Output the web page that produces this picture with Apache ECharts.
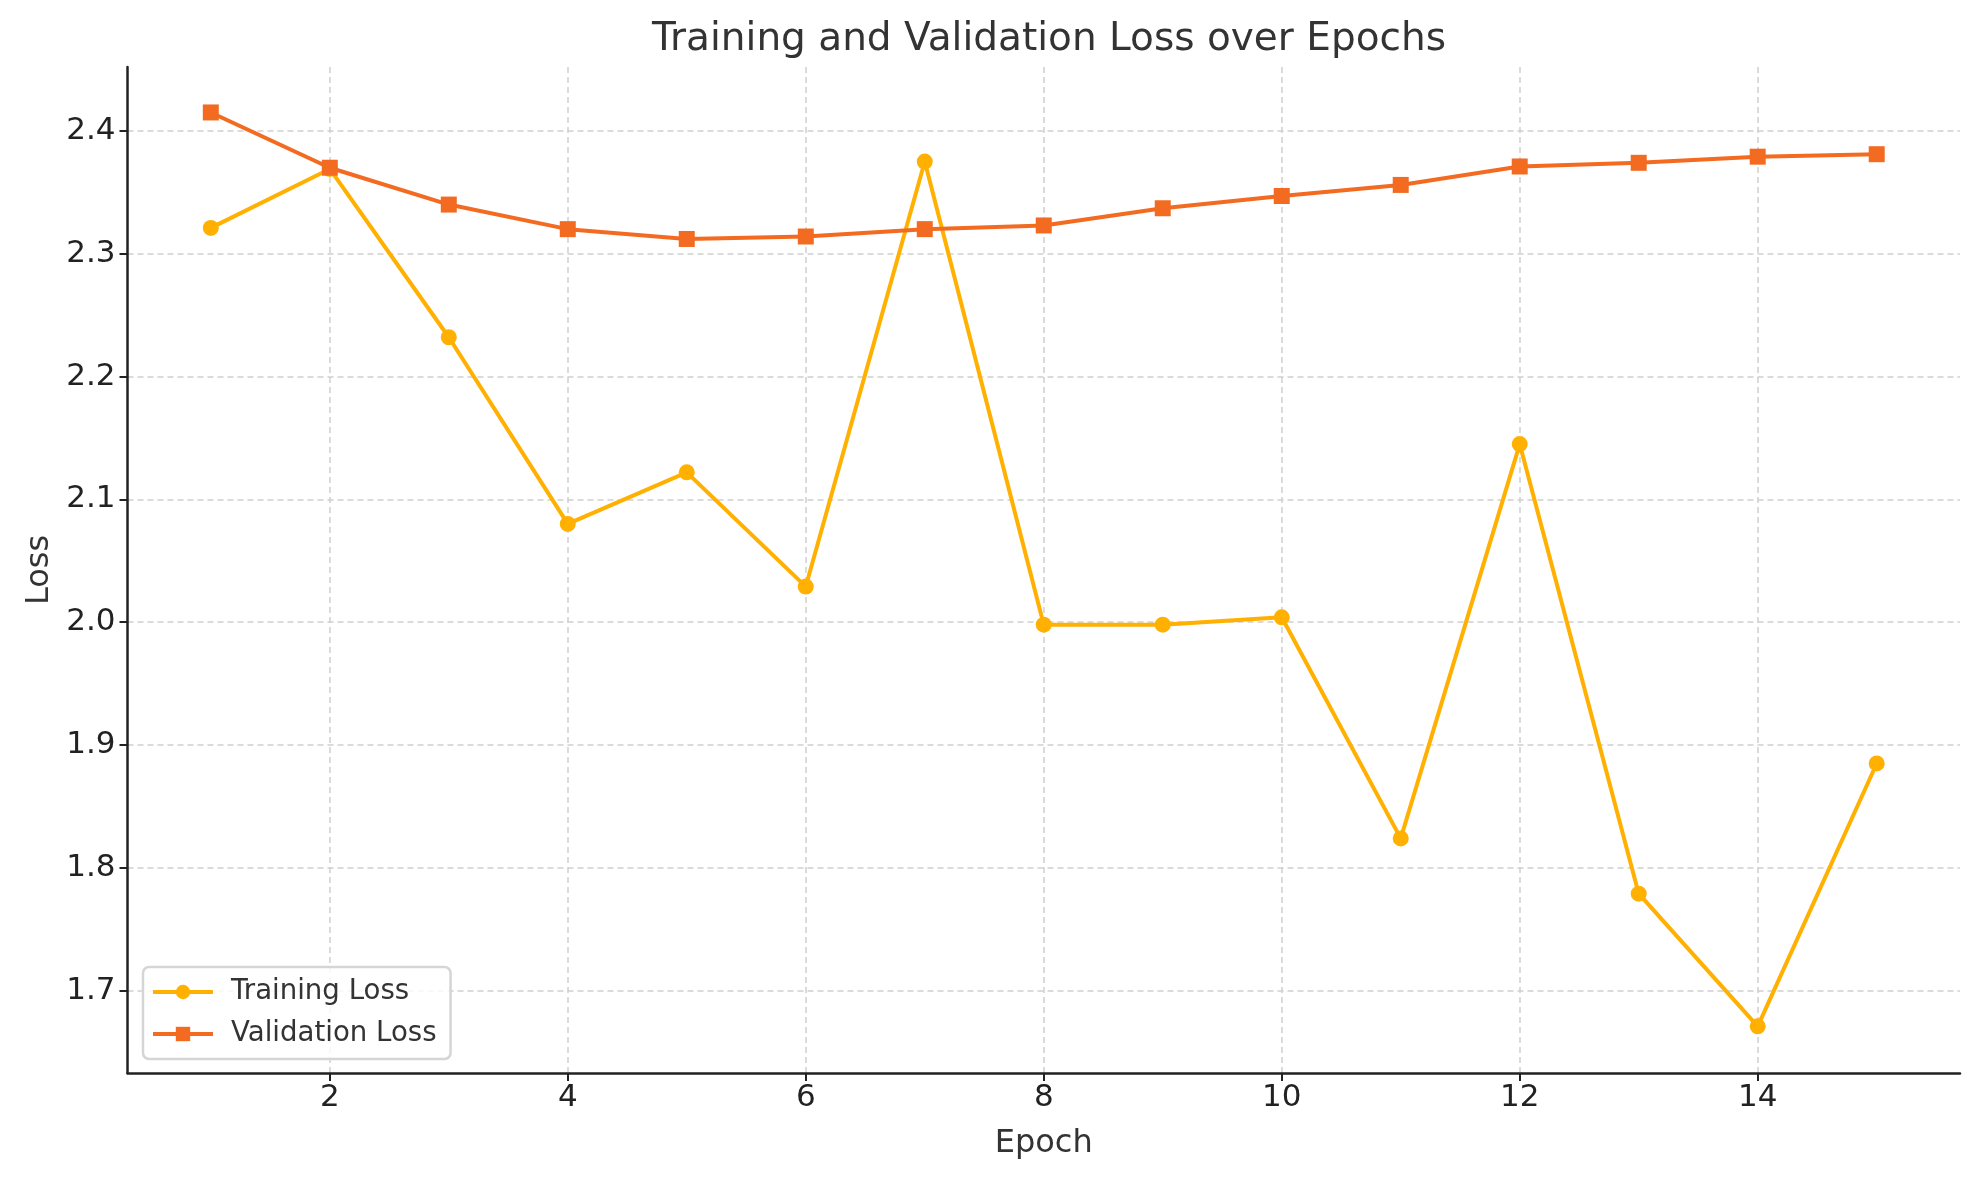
<!DOCTYPE html>
<html>
<head>
<meta charset="utf-8">
<script src="https://cdn.jsdelivr.net/npm/echarts@6/dist/echarts.min.js"></script>
<style>
html,body{margin:0;padding:0;background:#fff;}
#chart{width:1979px;height:1180px;}
</style>
</head>
<body>
<div id="chart"></div>
<script>
const epochs = [1,2,3,4,5,6,7,8,9,10,11,12,13,14,15];
const trainingLoss = [2.321,2.369,2.232,2.080,2.122,2.029,2.375,1.998,1.998,2.004,1.824,2.145,1.779,1.671,1.885];
const validationLoss = [2.415,2.370,2.340,2.320,2.312,2.314,2.320,2.323,2.337,2.347,2.356,2.371,2.374,2.379,2.381];
const xTicks = [2,4,6,8,10,12,14];
const yTicks = [1.7,1.8,1.9,2.0,2.1,2.2,2.3,2.4];

const FONT = 'DejaVu Sans';
const chart = echarts.init(document.getElementById('chart'), null, {renderer:'canvas'});
const gridLine = {show:true, lineStyle:{color:'#d0d0d0', type:[6,4], width:1.5}};
chart.setOption({
  animation:false,
  backgroundColor:'#fff',
  title:{
    text:'Training and Validation Loss over Epochs',
    left:1044, top:15, textAlign:'center',
    textStyle:{fontFamily:FONT, fontSize:39, fontWeight:'normal', color:'#333'}
  },
  legend:{
    left:143, top:967, orient:'vertical',
    backgroundColor:'rgba(255,255,255,0.8)',
    borderColor:'#d5d5d5', borderWidth:2.5, borderRadius:6,
    padding:[11,14,11,8], itemGap:14, itemWidth:60, itemHeight:18,
    lineStyle:{width:4},
    textStyle:{fontFamily:FONT, fontSize:27.6, color:'#333', padding:[0,0,0,13]},
    data:['Training Loss','Validation Loss']
  },
  grid:{left:127.5, right:19, top:67, bottom:107, containLabel:false},
  xAxis:{
    type:'value', min:0.3, max:15.7,
    name:'Epoch', nameLocation:'middle', nameGap:55,
    nameTextStyle:{fontFamily:FONT, fontSize:32, color:'#333'},
    axisLine:{show:true, lineStyle:{color:'#222', width:2.5}},
    axisTick:{show:true, inside:false, length:8, lineStyle:{color:'#222', width:2}, customValues:xTicks},
    axisLabel:{fontFamily:FONT, fontSize:31, color:'#222', margin:9, customValues:xTicks, formatter:v=>String(v)},
    splitLine:gridLine
  },
  yAxis:{
    type:'value', min:1.633, max:2.452,
    name:'Loss', nameLocation:'middle', nameGap:72,
    nameTextStyle:{fontFamily:FONT, fontSize:32, color:'#333'},
    axisLine:{show:true, lineStyle:{color:'#222', width:2.5}},
    axisTick:{show:true, inside:false, length:8, lineStyle:{color:'#222', width:2}, customValues:yTicks},
    axisLabel:{fontFamily:FONT, fontSize:31, color:'#222', margin:12, customValues:yTicks, formatter:v=>v.toFixed(1)},
    splitLine:gridLine
  },
  series:[
    {
      name:'Training Loss', type:'line',
      data:epochs.map((e,i)=>[e,trainingLoss[i]]),
      symbol:'circle', symbolSize:16,
      lineStyle:{color:'#FFB000', width:4},
      itemStyle:{color:'#FFB000'},
      z:3
    },
    {
      name:'Validation Loss', type:'line',
      data:epochs.map((e,i)=>[e,validationLoss[i]]),
      symbol:'rect', symbolSize:16,
      lineStyle:{color:'#F26B21', width:4},
      itemStyle:{color:'#F26B21'},
      z:4
    }
  ]
});
</script>
</body>
</html>
